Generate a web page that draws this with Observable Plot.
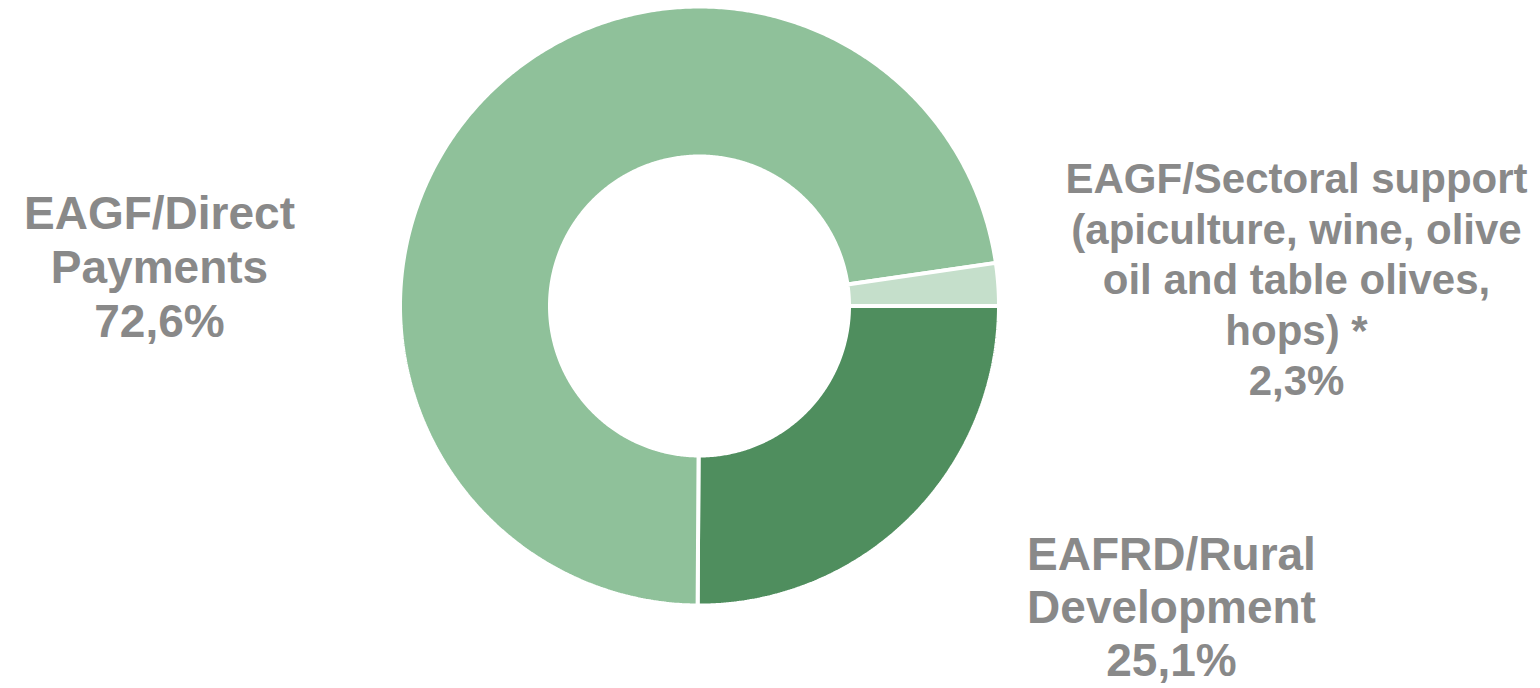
<!DOCTYPE html>
<html>
<head>
<meta charset="utf-8">
<script src="https://cdn.jsdelivr.net/npm/d3@7"></script>
<script src="https://cdn.jsdelivr.net/npm/@observablehq/plot@0.6"></script>
<style>
  html, body { margin: 0; padding: 0; background: #fff; }
  #chart svg { display: block; }
</style>
</head>
<body>
<div id="chart"></div>
<script>
// ---- data ----
const categories = ["EAFRD/Rural Development", "EAGF/Direct Payments", "EAGF/Sectoral support"];
const shares = [25.1, 72.6, 2.3];
const colors = ["#4f8e5e", "#8fc19a", "#c5dfcb"];
const labelLines = [
  ["EAFRD/Rural", "Development", "25,1%"],
  ["EAGF/Direct", "Payments", "72,6%"],
  ["EAGF/Sectoral support", "(apiculture, wine, olive", "oil and table olives,", "hops) *", "2,3%"]
];

// ---- layout ----
const W = 1540, H = 688;
const cx = 699, cy = 305.5, R = 299.5;      // path radius (white border eats 2px)
const innerRatio = 149.5 / 299.5;
const startAngle = 90; // degrees clockwise from 12 o'clock
const labelLayout = [
  {x: 1171, baseline: 569, lh: 53, fs: 46},
  {x: 159, baseline: 228.5, lh: 54, fs: 46},
  {x: 1296, baseline: 192.5, lh: 50.5, fs: 42}
];

// ---- build slice polygons (unit circle coords) ----
const total = d3.sum(shares);
const pts = [];
let acc = 0;
categories.forEach((name, i) => {
  const a0 = startAngle + acc / total * 360;
  acc += shares[i];
  const a1 = startAngle + acc / total * 360;
  const n = Math.max(4, Math.ceil((a1 - a0) * 2));
  for (let k = 0; k <= n; k++) {
    const a = (a0 + (a1 - a0) * k / n) * Math.PI / 180;
    pts.push({name, x: Math.sin(a), y: Math.cos(a)});
  }
  for (let k = n; k >= 0; k--) {
    const a = (a0 + (a1 - a0) * k / n) * Math.PI / 180;
    pts.push({name, x: innerRatio * Math.sin(a), y: innerRatio * Math.cos(a)});
  }
});

const textMarks = [];
labelLines.forEach((lines, i) => {
  const L = labelLayout[i];
  lines.forEach((line, j) => {
    textMarks.push(Plot.text([line], {
      text: d => d,
      frameAnchor: "top-left",
      dx: L.x,
      dy: L.baseline + j * L.lh - 0.71 * L.fs,
      textAnchor: "middle",
      lineAnchor: "top",
      fontSize: L.fs,
      fontWeight: "bold",
      fill: "#898989"
    }));
  });
});

const chart = Plot.plot({
  width: W,
  height: H,
  margin: 0,
  style: {fontFamily: "'Liberation Sans', Arial, sans-serif", background: "#fff"},
  x: {domain: [-1, 1], range: [cx - R, cx + R], axis: null},
  y: {domain: [-1, 1], range: [cy + R, cy - R], axis: null},
  color: {domain: categories, range: colors},
  marks: [
    Plot.line(pts, {
      x: "x", y: "y", z: "name",
      fill: "name",
      stroke: "#fff",
      strokeWidth: 4,
      strokeLinejoin: "miter",
      curve: "linear-closed"
    }),
    ...textMarks
  ]
});
document.getElementById("chart").appendChild(chart);
</script>
</body>
</html>
